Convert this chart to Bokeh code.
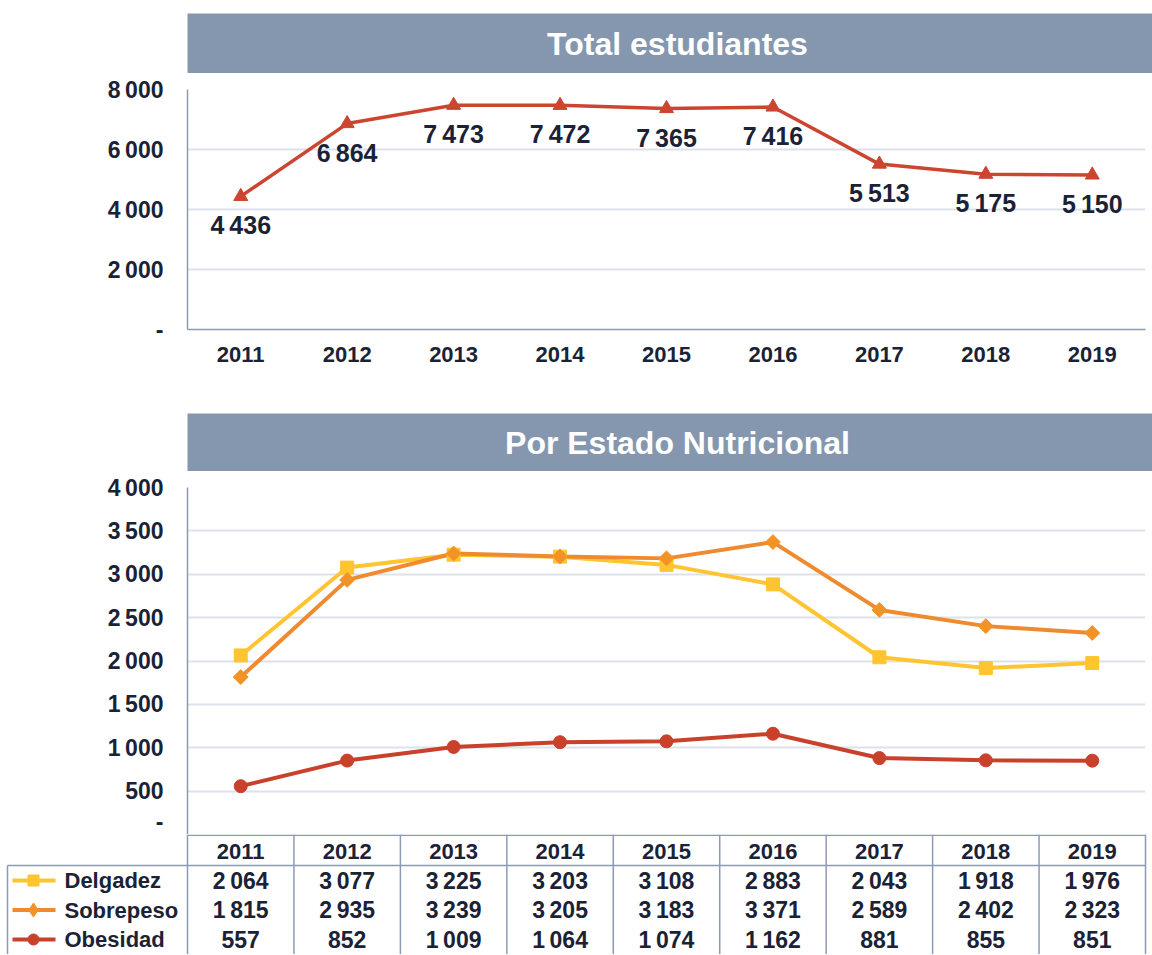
from bokeh.plotting import figure
from bokeh.models import Range1d, FactorRange, FixedTicker, Label, ColumnDataSource
from bokeh.core.properties import value
from bokeh.embed import file_html
from bokeh.resources import INLINE
import math

# ---------------- data ----------------
years = ["2011", "2012", "2013", "2014", "2015", "2016", "2017", "2018", "2019"]
total = [4436, 6864, 7473, 7472, 7365, 7416, 5513, 5175, 5150]
delgadez = [2064, 3077, 3225, 3203, 3108, 2883, 2043, 1918, 1976]
sobrepeso = [1815, 2935, 3239, 3205, 3183, 3371, 2589, 2402, 2323]
obesidad = [557, 852, 1009, 1064, 1074, 1162, 881, 855, 851]
series_names = ["Delgadez", "Sobrepeso", "Obesidad"]
title_top = "Total estudiantes"
title_bottom = "Por Estado Nutricional"
top_ticks = [0, 2000, 4000, 6000, 8000]
top_tick_labels = ["-", "2\u2009000", "4\u2009000", "6\u2009000", "8\u2009000"]
bot_ticks = [0, 500, 1000, 1500, 2000, 2500, 3000, 3500, 4000]
bot_tick_labels = ["-", "500", "1\u2009000", "1\u2009500", "2\u2009000", "2\u2009500",
                   "3\u2009000", "3\u2009500", "4\u2009000"]

# ---------------- style ----------------
FONT = "Liberation Sans"
TXT = "#1B2235"
BANNER = "#8596AF"
AXC = "#8C9BB5"
GRID = "#DCE1EA"
C_TOTAL = "#CB4530"
C_DEL = "#FFC530"
C_SOB = "#EF8A2E"
C_SOB_MK = "#F39325"
C_OBE = "#C9402B"
W = 1152
LEFT = 187
RIGHT = 7
FW = W - LEFT - RIGHT
CW = FW / 9.0


def fmt(v):
    return f"{v:,}".replace(",", "\u2009")


def banner(text, height, top):
    b = figure(width=W, height=height, x_range=Range1d(LEFT, W),
               y_range=Range1d(0, 1), toolbar_location=None, output_backend="svg",
               min_border_left=LEFT, min_border_right=0, min_border_top=top,
               min_border_bottom=0)
    b.axis.visible = False
    b.grid.visible = False
    b.outline_line_color = None
    b.background_fill_color = BANNER
    b.add_layout(Label(x=677, y=0.5, text=text, text_align="center", text_baseline="middle",
                       text_color="white", text_font=FONT, text_font_style="bold",
                       text_font_size="32px"))
    return b


def style_axes(p, ticks, labels):
    p.yaxis.ticker = FixedTicker(ticks=ticks)
    p.yaxis.major_label_overrides = {t: l for t, l in zip(ticks, labels)}
    for ax in (p.xaxis, p.yaxis):
        ax.axis_line_color = AXC
        ax.axis_line_width = 1.5
        ax.major_tick_line_color = None
        ax.minor_tick_line_color = None
        ax.major_tick_out = 0
        ax.major_tick_in = 0
        ax.major_label_text_font = FONT
        ax.major_label_text_font_style = "bold"
        ax.major_label_text_font_size = "22px"
        ax.major_label_text_color = TXT
    p.yaxis.major_label_text_font_size = "23px"
    p.yaxis.major_label_standoff = 24
    p.xaxis.major_label_standoff = 17
    p.xgrid.visible = False
    p.ygrid.grid_line_color = GRID
    p.ygrid.grid_line_width = 2
    p.outline_line_color = None


# ---------------- top chart ----------------
b1 = banner(title_top, 73, 13)

p1 = figure(width=W, height=340, x_range=FactorRange(*years), y_range=Range1d(0, 8000),
            toolbar_location=None, output_backend="svg",
            min_border_left=LEFT, min_border_right=RIGHT, min_border_top=16, min_border_bottom=84)
style_axes(p1, top_ticks, top_tick_labels)
src1 = ColumnDataSource(dict(x=years, y=total, t=[fmt(v) for v in total]))
p1.line("x", "y", source=src1, line_color=C_TOTAL, line_width=3.5)
p1.scatter("x", "y", source=src1, marker="triangle", size=14, fill_color=C_TOTAL,
           line_color=C_TOTAL)
p1.text("x", "y", text="t", source=src1, y_offset=29, text_align="center",
        text_baseline="middle", text_font=value(FONT), text_font_style="bold",
        text_font_size="25px", text_color=TXT)

# ---------------- bottom chart ----------------
b2 = banner(title_bottom, 58, 0)

p2 = figure(width=W, height=363, x_range=FactorRange(*years), y_range=Range1d(0, 4000),
            toolbar_location=None, output_backend="svg",
            min_border_left=LEFT, min_border_right=RIGHT, min_border_top=16, min_border_bottom=0)
style_axes(p2, bot_ticks, bot_tick_labels)
p2.xaxis.visible = False

# (values, line colour, chart marker, size, angle, legend marker, legend size, marker colour)
series = [(delgadez, C_DEL, "square", 13, 0.0, "square", 11, C_DEL),
          (sobrepeso, C_SOB, "square", 10.5, math.pi / 4, "diamond", 14, C_SOB_MK),
          (obesidad, C_OBE, "circle", 13, 0.0, "circle", 11, C_OBE)]
for s in series:
    p2.line(years, s[0], line_color=s[1], line_width=4)
for s in series:
    p2.scatter(years, s[0], marker=s[2], size=s[3], angle=s[4], fill_color=s[7],
               line_color=s[7])

# ---------------- data table ----------------
TH = 120
HDR = 31
tbl = figure(width=W, height=TH, x_range=Range1d(-LEFT / CW, 9 + RIGHT / CW),
             y_range=Range1d(TH, 0), toolbar_location=None, output_backend="svg",
             min_border_left=0, min_border_right=0, min_border_top=0, min_border_bottom=0)
tbl.axis.visible = False
tbl.grid.visible = False
tbl.outline_line_color = None


def dx(page_x):
    return (page_x - LEFT) / CW


row_y = [HDR + 15 + 29.5 * i for i in range(3)]

# cell borders
tbl.segment(x0=[0], y0=[0.75], x1=[9], y1=[0.75], line_color=AXC, line_width=1.5)
tbl.segment(x0=[dx(7)], y0=[HDR], x1=[9], y1=[HDR], line_color=AXC, line_width=1.5)
vx = list(range(10))
tbl.segment(x0=vx, y0=[0] * 10, x1=vx, y1=[TH] * 10, line_color=AXC, line_width=1.5)
tbl.segment(x0=[dx(7)], y0=[HDR], x1=[dx(7)], y1=[TH], line_color=AXC, line_width=1.5)

# header
centers = [i + 0.5 for i in range(9)]
tbl.text(centers, [HDR / 2 + 1] * 9, text=years, text_align="center", text_baseline="middle",
         text_font=value(FONT), text_font_style="bold", text_font_size="22px", text_color=TXT)

# rows with legend keys
for s, name, yy in zip(series, series_names, row_y):
    tbl.text(centers, [yy] * 9, text=[fmt(v) for v in s[0]], text_align="center",
             text_baseline="middle", text_font=value(FONT), text_font_style="bold",
             text_font_size="23px", text_color=TXT)
    tbl.text([dx(64)], [yy], text=[name], text_align="left", text_baseline="middle",
             text_font=value(FONT), text_font_style="bold", text_font_size="22px",
             text_color=TXT)
    tbl.segment(x0=[dx(12)], y0=[yy], x1=[dx(55)], y1=[yy], line_color=s[1], line_width=4)
    tbl.scatter([dx(33)], [yy], marker=s[5], size=s[6], fill_color=s[7], line_color=s[7])

open("out.html", "w").write(file_html([b1, p1, b2, p2, tbl], INLINE))
